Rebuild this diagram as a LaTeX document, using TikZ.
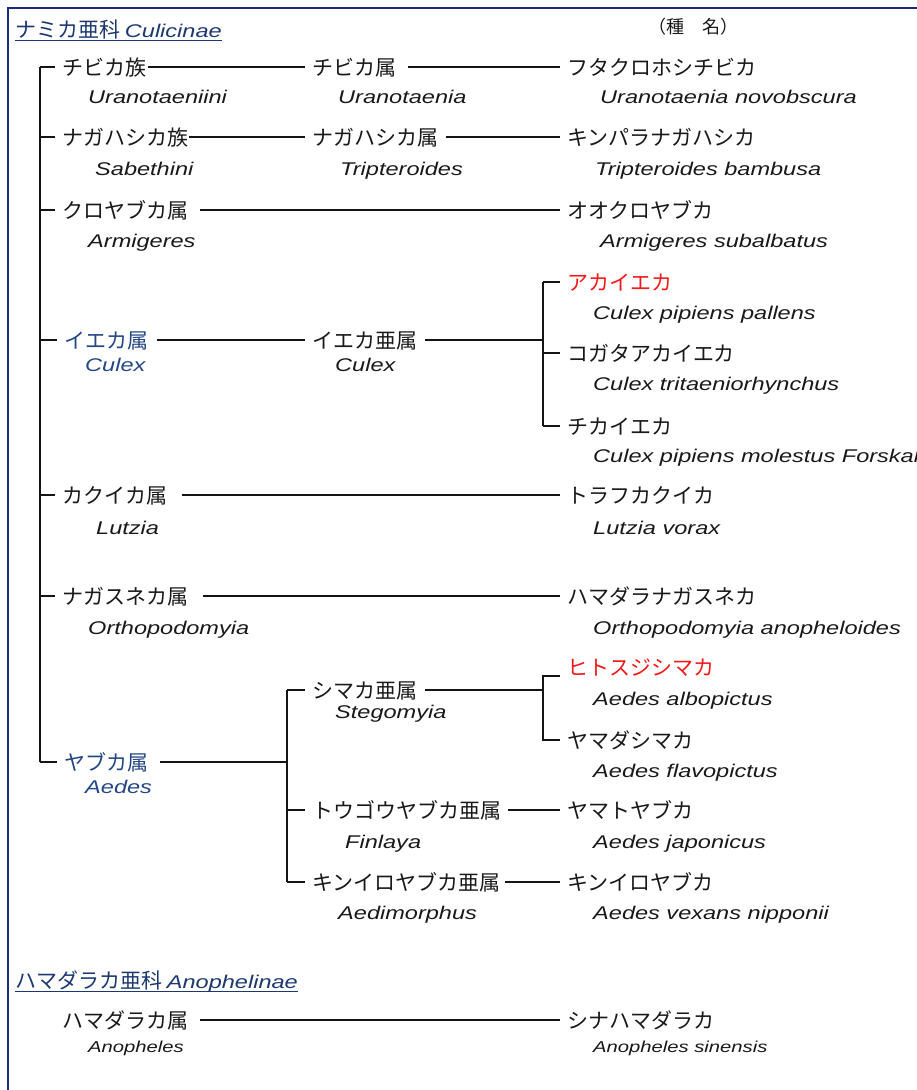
\documentclass[tikz,border=0pt]{standalone}
\usepackage{fontspec}
\newfontfamily\jpf{Noto Sans CJK JP}
\newfontfamily\laf[FakeStretch=1.28]{Liberation Sans Italic}
\definecolor{hdblue}{RGB}{28,56,112}
\definecolor{gblue}{RGB}{35,70,135}
\definecolor{ink}{RGB}{25,25,25}
\definecolor{lnc}{RGB}{20,20,20}
\definecolor{myred}{RGB}{245,25,25}
\definecolor{framec}{RGB}{25,45,120}
\begin{document}
\begin{tikzpicture}[x=1pt,y=-1pt,
  ln/.style={draw=lnc, line width=1.1pt},
  jp/.style={font=\jpf\fontsize{21}{25}\selectfont, inner sep=0pt, anchor=base west, text height=16pt, text depth=0pt, text=ink},
  la/.style={font=\laf\fontsize{18.4}{22}\selectfont, inner sep=0pt, anchor=base west, text=ink},
  las/.style={font=\laf\fontsize{15.8}{19}\selectfont, inner sep=0pt, anchor=base west, text=ink},
  hd/.style={font=\jpf\fontsize{21}{25}\selectfont, inner sep=0pt, anchor=base west, text=hdblue},
  uline/.style={draw=hdblue, line width=1.3pt}]
\useasboundingbox (0,0) rectangle (917,1090);
\fill[white] (0,0) rectangle (917,1090);
\draw[draw=framec, line width=2.2pt] (8,1092) -- (8,8) -- (919,8);

% headers
\node[hd] (h1) at (15,37) {ナミカ亜科 {\laf\fontsize{18.4}{22}\selectfont Culicinae}};
\draw[uline] ([yshift=-3.5pt]h1.base west) -- ([yshift=-3.5pt]h1.base east);
\node[jp, font=\jpf\fontsize{18}{22}\selectfont] (kind) at (648,33) {（種　名）};

\coordinate (tk) at (40,0);

% row 1
\node[jp] (t1) at (62,75) {チビカ族};
\node[jp] (g1) at (312,75) {チビカ属};
\node[jp] (s1) at (567,75) {フタクロホシチビカ};
\node[la] (t1l) at (88,103) {Uranotaeniini};
\node[la] (g1l) at (338,103) {Uranotaenia};
\node[la] (s1l) at (600,103) {Uranotaenia novobscura};
\draw[ln] ([xshift=2pt]t1.east) -- ([xshift=-7pt]g1.west);
\draw[ln] ([xshift=12pt]g1.east) -- ([xshift=-7pt]s1.west);

% row 2
\node[jp] (t2) at (62,145) {ナガハシカ族};
\node[jp] (g2) at (312,145) {ナガハシカ属};
\node[jp] (s2) at (567,145) {キンパラナガハシカ};
\node[la] (t2l) at (95,175) {Sabethini};
\node[la] (g2l) at (340,175) {Tripteroides};
\node[la] (s2l) at (595,175) {Tripteroides bambusa};
\draw[ln] ([xshift=1pt]t2.east) -- ([xshift=-7pt]g2.west);
\draw[ln] ([xshift=8pt]g2.east) -- ([xshift=-7pt]s2.west);

% row 3
\node[jp] (g3) at (62,218) {クロヤブカ属};
\node[jp] (s3) at (567,218) {オオクロヤブカ};
\node[la] (g3l) at (88,247) {Armigeres};
\node[la] (s3l) at (600,247) {Armigeres subalbatus};
\draw[ln] ([xshift=12pt]g3.east) -- ([xshift=-7pt]s3.west);

% row 4 Culex
\node[jp, text=gblue] (g4) at (64,348) {イエカ属};
\node[jp] (sg4) at (312,348) {イエカ亜属};
\node[la, text=gblue] (g4l) at (85,371) {Culex};
\node[la] (sg4l) at (335,371) {Culex};
\node[jp, text=myred] (s4a) at (567,290) {アカイエカ};
\node[la] (s4al) at (593,319) {Culex pipiens pallens};
\node[jp] (s4b) at (567,361) {コガタアカイエカ};
\node[la] (s4bl) at (593,390) {Culex tritaeniorhynchus};
\node[jp] (s4c) at (567,434) {チカイエカ};
\node[la] (s4cl) at (593,462) {Culex pipiens molestus Forskal};
\coordinate (cb) at (543,0);
\draw[ln] ([xshift=9pt]g4.east) -- ([xshift=-7pt]sg4.west);
\draw[ln] ([xshift=8pt]sg4.east) -- (cb |- sg4.east);
\draw[ln] (cb |- s4a.west) -- (cb |- s4c.west);
\draw[ln] (cb |- s4a.west) -- ([xshift=-7pt]s4a.west);
\draw[ln] (cb |- s4b.west) -- ([xshift=-7pt]s4b.west);
\draw[ln] (cb |- s4c.west) -- ([xshift=-7pt]s4c.west);

% row 5
\node[jp] (g5) at (62,503) {カクイカ属};
\node[jp] (s5) at (567,503) {トラフカクイカ};
\node[la] (g5l) at (96,534) {Lutzia};
\node[la] (s5l) at (593,534) {Lutzia vorax};
\draw[ln] ([xshift=15pt]g5.east) -- ([xshift=-7pt]s5.west);

% row 6
\node[jp] (g6) at (62,604) {ナガスネカ属};
\node[jp] (s6) at (567,604) {ハマダラナガスネカ};
\node[la] (g6l) at (88,634) {Orthopodomyia};
\node[la] (s6l) at (593,634) {Orthopodomyia anopheloides};
\draw[ln] ([xshift=15pt]g6.east) -- ([xshift=-7pt]s6.west);

% row 7 Aedes
\node[jp, text=gblue] (g7) at (64,770) {ヤブカ属};
\node[la, text=gblue] (g7l) at (85,793) {Aedes};
\node[jp] (sg7a) at (312,698) {シマカ亜属};
\node[la] (sg7al) at (335,718) {Stegomyia};
\node[jp] (sg7b) at (312,818) {トウゴウヤブカ亜属};
\node[la] (sg7bl) at (345,848) {Finlaya};
\node[jp] (sg7c) at (312,890) {キンイロヤブカ亜属};
\node[la] (sg7cl) at (338,919) {Aedimorphus};
\node[jp, text=myred] (s7a) at (567,675) {ヒトスジシマカ};
\node[la] (s7al) at (593,705) {Aedes albopictus};
\node[jp] (s7b) at (567,748) {ヤマダシマカ};
\node[la] (s7bl) at (593,777) {Aedes flavopictus};
\node[jp] (s7c) at (567,818) {ヤマトヤブカ};
\node[la] (s7cl) at (593,848) {Aedes japonicus};
\node[jp] (s7d) at (567,890) {キンイロヤブカ};
\node[la] (s7dl) at (593,919) {Aedes vexans nipponii};
\coordinate (ab) at (287,0);
\coordinate (sb) at (543,0);
\draw[ln] ([xshift=12pt]g7.east) -- (ab |- g7.east);
\draw[ln] (ab |- sg7a.west) -- (ab |- sg7c.west);
\draw[ln] (ab |- sg7a.west) -- ([xshift=-7pt]sg7a.west);
\draw[ln] (ab |- sg7b.west) -- ([xshift=-7pt]sg7b.west);
\draw[ln] (ab |- sg7c.west) -- ([xshift=-7pt]sg7c.west);
\draw[ln] ([xshift=8pt]sg7a.east) -- (sb |- sg7a.east);
\draw[ln] ([xshift=-7pt,yshift=-9pt]s7a.west) -| (sb |- s7b.west) -- ([xshift=-7pt]s7b.west);
\draw[ln] ([xshift=7pt]sg7b.east) -- ([xshift=-7pt]s7c.west);
\draw[ln] ([xshift=4pt]sg7c.east) -- ([xshift=-7pt]s7d.west);

% trunk
\draw[ln] (tk |- t1.west) -- (tk |- g7.west);
\foreach \n in {t1,t2,g3,g4,g5,g6,g7}{
  \draw[ln] (tk |- \n.west) -- ([xshift=-7pt]\n.west);
}

% Anophelinae
\node[hd] (h2) at (15,988) {ハマダラカ亜科 {\laf\fontsize{18.4}{22}\selectfont Anophelinae}};
\draw[uline] ([yshift=-3.5pt]h2.base west) -- ([yshift=-3.5pt]h2.base east);
\node[jp] (g8) at (62,1028) {ハマダラカ属};
\node[jp] (s8) at (567,1028) {シナハマダラカ};
\node[las] (g8l) at (88,1052) {Anopheles};
\node[las] (s8l) at (593,1052) {Anopheles sinensis};
\draw[ln] ([xshift=12pt]g8.east) -- ([xshift=-7pt]s8.west);
\end{tikzpicture}
\end{document}
